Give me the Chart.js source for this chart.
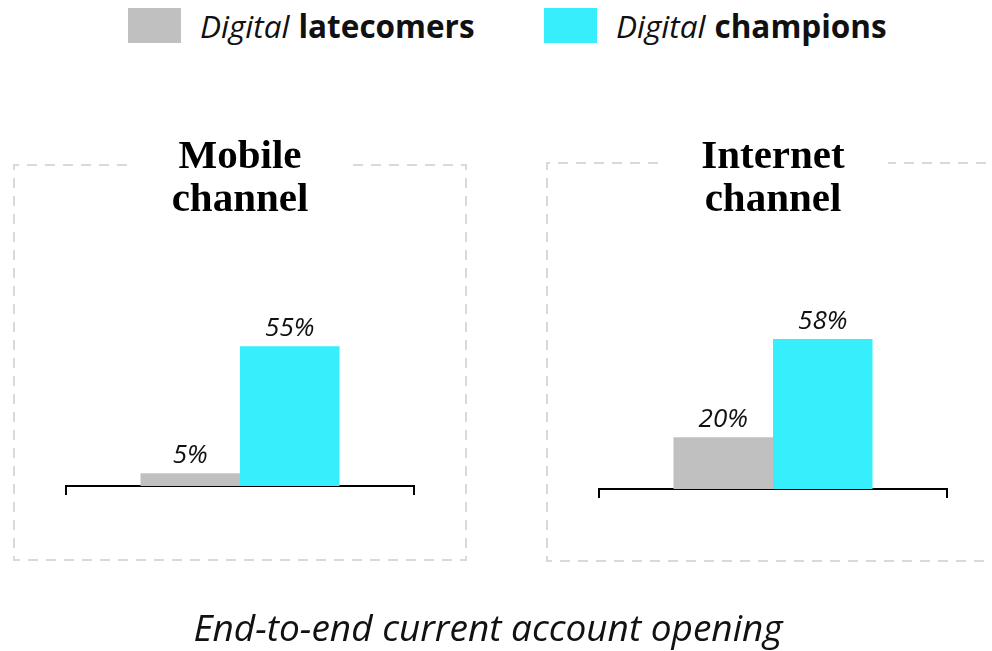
<!DOCTYPE html>
<html>
<head>
<meta charset="utf-8">
<script src="https://cdn.jsdelivr.net/npm/chart.js@4.4.1/dist/chart.umd.min.js"></script>
<style>
    body { margin: 0; width: 992px; height: 651px; background: #fff; position: relative; overflow: hidden; font-family: "Open Sans", sans-serif; }
    .legend { position: absolute; top: 8px; height: 35px; display: flex; align-items: center; font-size: 31.5px; color: #111; }
    .legend .sw { width: 53px; height: 35px; margin-right: 19px; }
    .legend i { font-style: italic; margin-right: 9px; }
    .legend b { font-weight: 700; }
    .wrap { position: absolute; top: 0; width: 496px; height: 651px; }
    .title { position: absolute; width: 240px; text-align: center; font-family: "Liberation Serif", serif; font-weight: 700; font-size: 41px; line-height: 43px; color: #000; }
    .caption { position: absolute; top: 601px; left: 0; width: 976px; text-align: center; font-style: italic; font-size: 37px; color: #111; }
</style>
</head>
<body>
<div class="legend" style="left:128px"><div class="sw" style="background:#c0c0c0"></div><i>Digital</i><b>latecomers</b></div>
<div class="legend" style="left:544px"><div class="sw" style="background:#36eefc"></div><i>Digital</i><b>champions</b></div>

<div class="wrap" style="left:0"><canvas id="mobileChart"></canvas></div>
<div class="wrap" style="left:496px"><canvas id="internetChart"></canvas></div>

<div class="title" style="left:120px; top:133px">Mobile<br>channel</div>
<div class="title" style="left:653px; top:133px">Internet<br>channel</div>

<div class="caption">End-to-end current account opening</div>

<script>
    // Dữ liệu
    const seriesNames = ['Digital latecomers', 'Digital champions'];
    const seriesColors = ['#c0c0c0', '#36eefc'];
    const mobileValues = [5, 55];
    const internetValues = [20, 58];
    const category = ['End-to-end current account opening'];

    // khung nét đứt quanh mỗi panel (toạ độ trong canvas)
    function dashedBox(box) {
        return {
            id: 'dashedBox',
            beforeDraw(chart) {
                const ctx = chart.ctx;
                ctx.save();
                ctx.strokeStyle = '#d9d9d9';
                ctx.lineWidth = 2;
                ctx.setLineDash([10, 8]);
                ctx.beginPath();
                ctx.moveTo(box.gapL, box.top);
                ctx.lineTo(box.left, box.top);
                ctx.lineTo(box.left, box.bottom);
                ctx.lineTo(box.right, box.bottom);
                ctx.lineTo(box.right, box.top);
                ctx.lineTo(box.gapR, box.top);
                ctx.stroke();
                ctx.restore();
            }
        };
    }

    // nhãn phần trăm trên cột
    const valueLabels = {
        id: 'valueLabels',
        afterDatasetsDraw(chart) {
            const ctx = chart.ctx;
            ctx.save();
            ctx.font = 'italic 26px "Open Sans"';
            ctx.fillStyle = '#111';
            ctx.textAlign = 'center';
            ctx.textBaseline = 'alphabetic';
            chart.data.datasets.forEach((ds, i) => {
                chart.getDatasetMeta(i).data.forEach((bar, j) => {
                    ctx.fillText(ds.data[j] + '%', bar.x, bar.y - 10);
                });
            });
            ctx.restore();
        }
    };

    function makeChart(id, values, pad, box) {
        const ctx = document.getElementById(id).getContext('2d');
        return new Chart(ctx, {
            type: 'bar',
            data: {
                labels: category,
                datasets: seriesNames.map((name, i) => ({
                    label: name,
                    data: [values[i]],
                    backgroundColor: seriesColors[i],
                    borderWidth: 0,
                    barPercentage: 1,
                    categoryPercentage: 0.572
                }))
            },
            options: {
                responsive: true,
                maintainAspectRatio: false,
                animation: false,
                layout: { padding: pad },
                plugins: { legend: { display: false }, tooltip: { enabled: false } },
                scales: {
                    x: {
                        ticks: { display: false },
                        grid: { drawOnChartArea: false, drawTicks: true, tickLength: 9, color: '#000', lineWidth: 2 },
                        border: { display: true, color: '#000', width: 2 }
                    },
                    y: {
                        display: false,
                        min: 0,
                        max: 70
                    }
                }
            },
            plugins: [dashedBox(box), valueLabels]
        });
    }

    makeChart('mobileChart', mobileValues,
        { left: 66, right: 82, top: 308, bottom: 156 },
        { left: 14, right: 466, top: 165, bottom: 560, gapL: 127, gapR: 353 });
    makeChart('internetChart', internetValues,
        { left: 103, right: 45, top: 308, bottom: 153 },
        { left: 51, right: 510, top: 163, bottom: 561, gapL: 162, gapR: 392 });
</script>
</body>
</html>
